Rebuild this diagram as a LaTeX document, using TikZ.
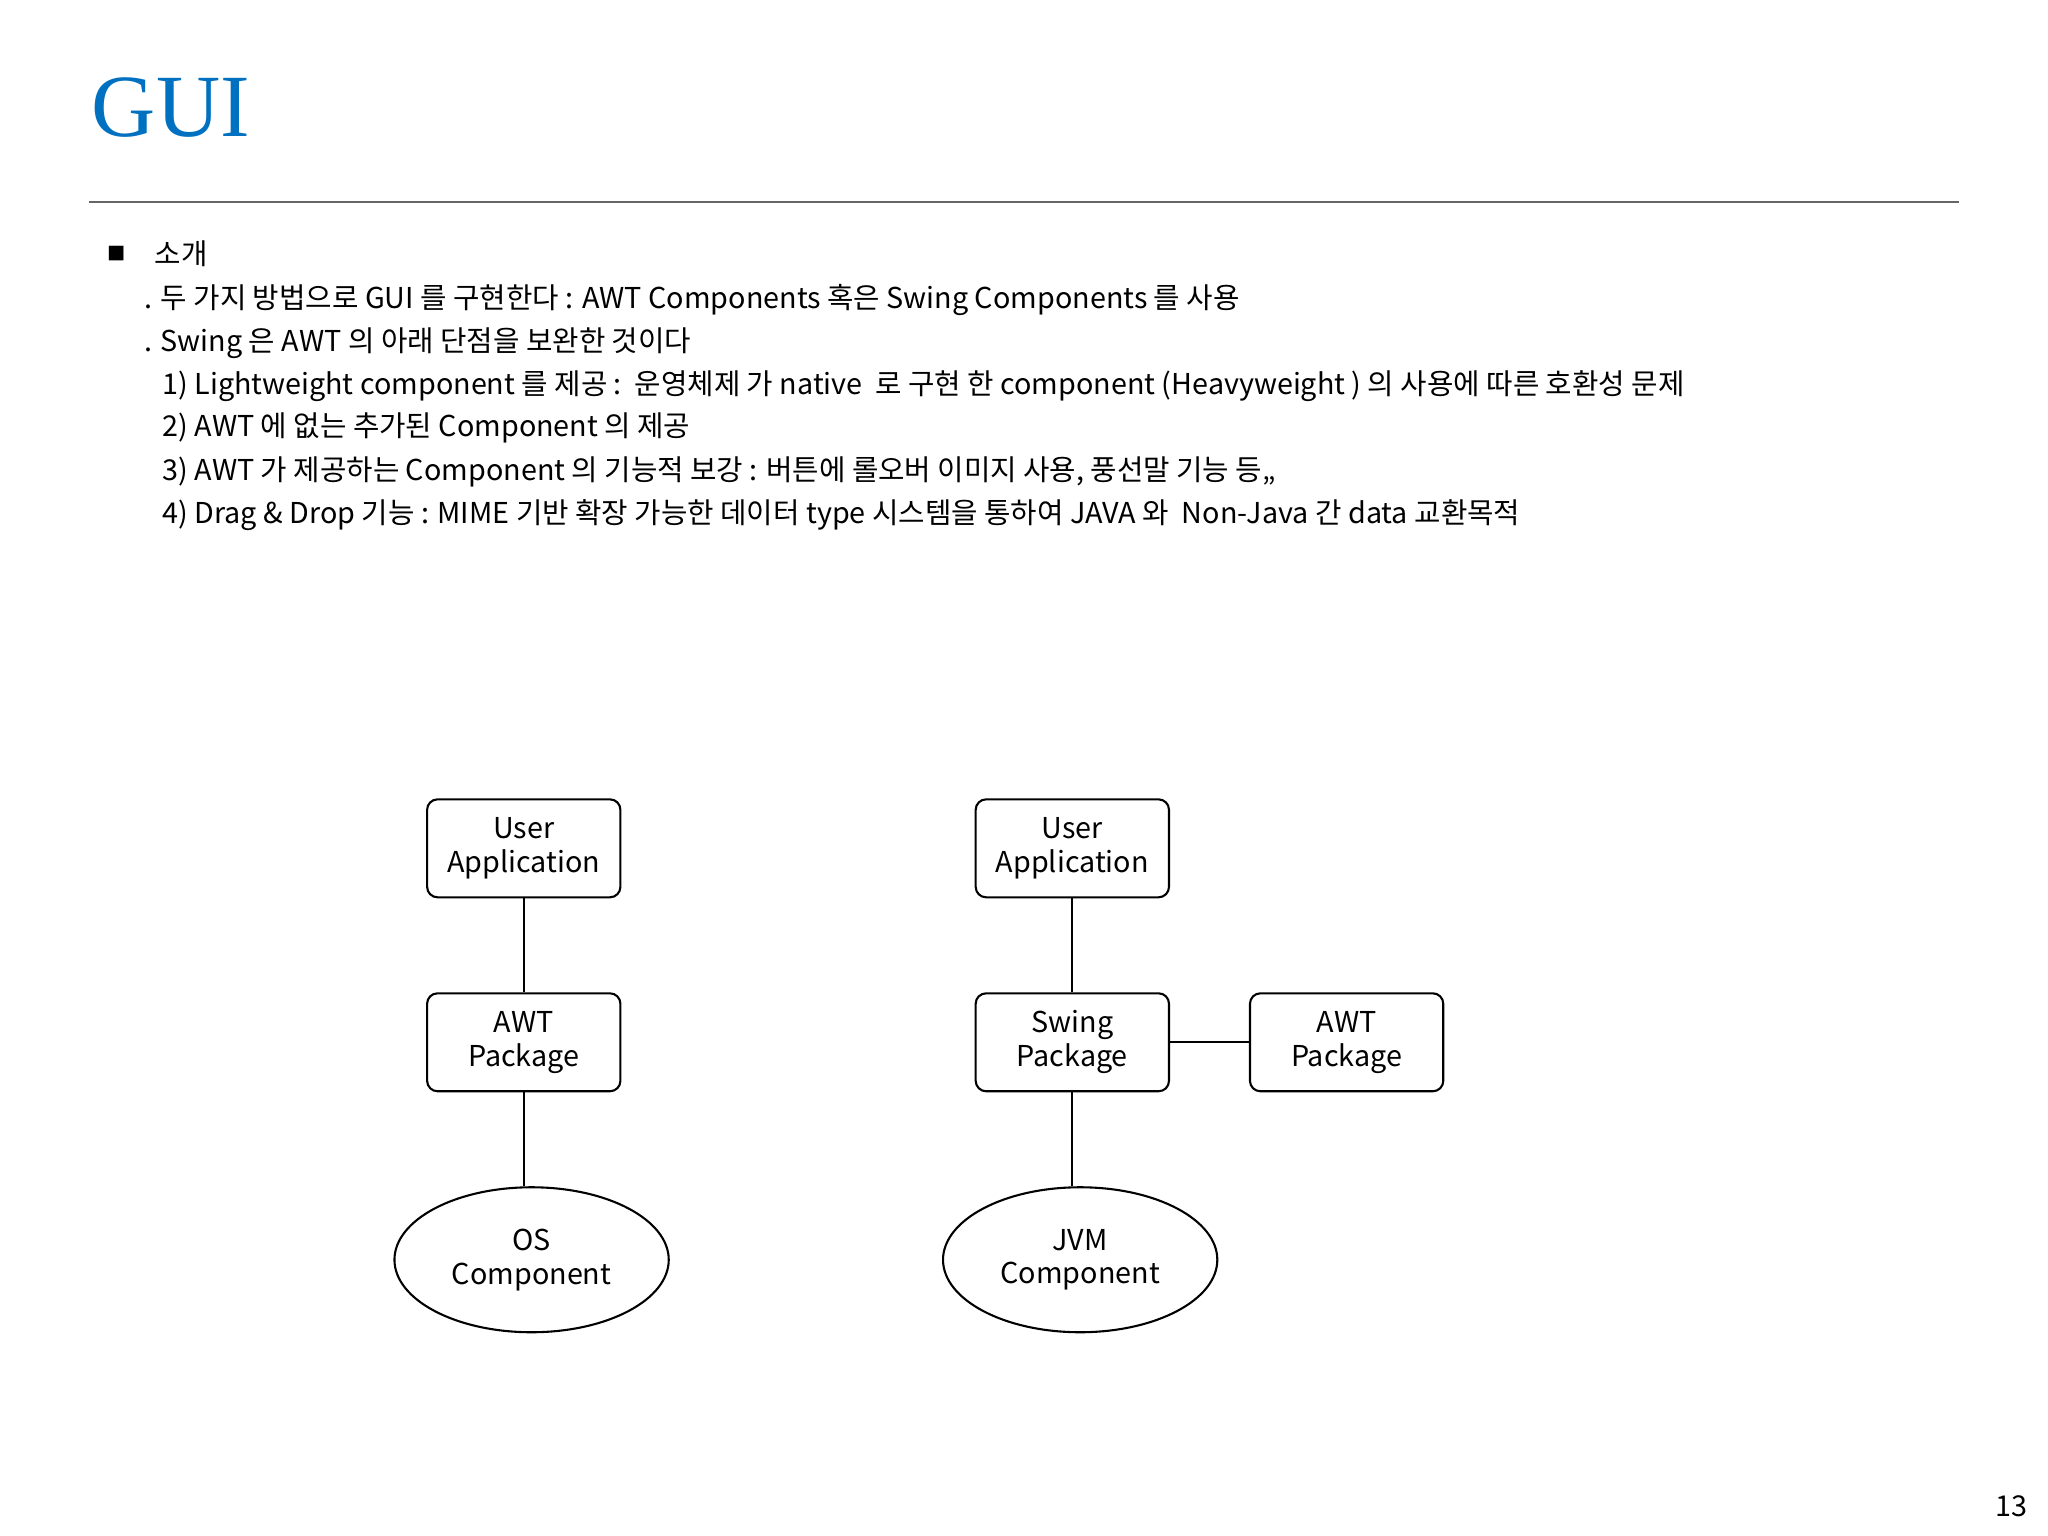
\documentclass[tikz,border=0pt]{standalone}
\usepackage{fontspec}
\setmainfont{Noto Sans CJK KR}
\newfontfamily\titlefont{Liberation Serif}
\usetikzlibrary{shapes.geometric}
\definecolor{titleblue}{RGB}{0,112,192}
\begin{document}
\begin{tikzpicture}[x=0.5pt,y=-0.5pt,
  txt/.style={anchor=west,inner sep=0,font=\fontsize{11}{13}\selectfont},
  box/.style={draw,thick,rounded corners=4pt,minimum width=74pt,minimum height=37.5pt,align=center,font=\fontsize{11}{13}\selectfont,inner sep=0},
  oval/.style={draw,thick,ellipse,minimum width=105pt,minimum height=55.5pt,align=center,font=\fontsize{11}{13}\selectfont,inner sep=0},
  conn/.style={thick}]
\fill[white] (0,0) rectangle (1568,1176);
\node[anchor=west,inner sep=0,text=titleblue,font=\titlefont\fontsize{34}{36}\selectfont] (title) at (70,82) {GUI};
\draw[gray!80!black,thick] (68,155) -- (1500,155);
\node[anchor=center,inner sep=0,font=\fontsize{7}{8}\selectfont] (bul) at (89,194) {■};
\node[txt] (t0) at (118,194) {소개};
\node[txt] (t1) at (110,230) {. 두 가지 방법으로 GUI 를 구현한다 : AWT Components 혹은 Swing Components 를 사용};
\node[txt] (t2) at (110,263) {. Swing 은 AWT 의 아래 단점을 보완한 것이다};
\node[txt] (t3) at (124,296) {1) Lightweight component 를 제공 :\ \ 운영체제 가 native\ \ 로 구현 한 component (Heavyweight ) 의 사용에 따른 호환성 문제};
\node[txt] (t4) at (124,328) {2) AWT 에 없는 추가된 Component 의 제공};
\node[txt] (t5) at (124,361) {3) AWT 가 제공하는 Component 의 기능적 보강 : 버튼에 롤오버 이미지 사용, 풍선말 기능 등,,};
\node[txt] (t6) at (124,394) {4) Drag \& Drop 기능 : MIME 기반 확장 가능한 데이터 type 시스템을 통하여 JAVA 와\ \ Non-Java 간 data 교환목적};
\node[box] (ua1) at (401,649.5) {User\\Application};
\node[box] (awt1) at (401,798) {AWT\\Package};
\node[oval] (os) at (407,964.5) {OS\\Component};
\node[box] (ua2) at (821,649.5) {User\\Application};
\node[box] (sw) at (821,798) {Swing\\Package};
\node[box] (awt2) at (1031,798) {AWT\\Package};
\node[oval] (jvm) at (827,964.5) {JVM\\Component};
\draw[conn] (ua1) -- (awt1);
\draw[conn] (awt1.south) -- (awt1.south |- os.north);
\draw[conn] (ua2) -- (sw);
\draw[conn] (sw.south) -- (sw.south |- jvm.north);
\draw[conn] (sw) -- (awt2);
\node[anchor=center,inner sep=0,font=\fontsize{11}{13}\selectfont] (pg) at (1540,1153) {13};
\end{tikzpicture}
\end{document}
